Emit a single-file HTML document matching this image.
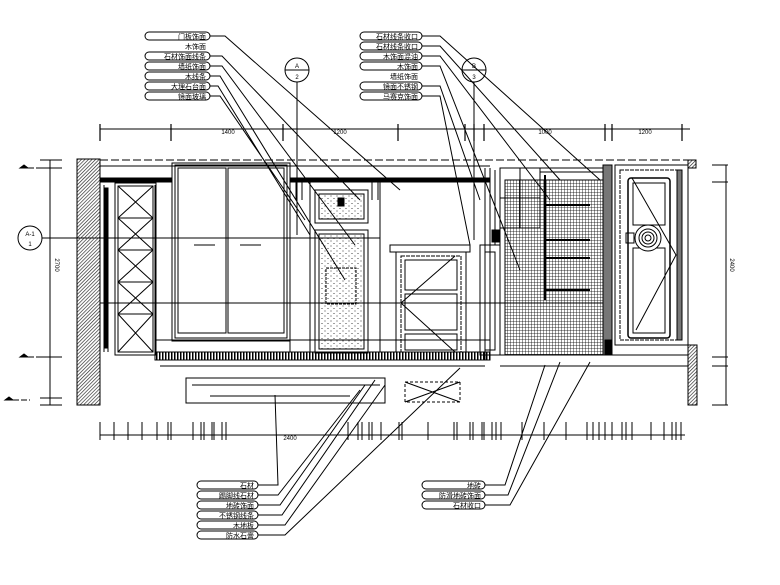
<!DOCTYPE html>
<html><head><meta charset="utf-8"><style>
html,body{margin:0;padding:0;background:#fff;}
svg{display:block;font-family:"Liberation Sans","Noto Sans CJK SC",sans-serif;}
</style></head><body>
<svg width="780" height="585" viewBox="0 0 780 585" xmlns="http://www.w3.org/2000/svg">
<defs>
<pattern id="h" width="2.5" height="2.5" patternUnits="userSpaceOnUse" patternTransform="rotate(45)"><line x1="0" y1="0" x2="0" y2="2.5" stroke="#222" stroke-width="1.3"/></pattern>
<pattern id="g" width="3" height="3" patternUnits="userSpaceOnUse"><path d="M0 0H3M0 0V3" stroke="#000" stroke-width="0.8" fill="none"/></pattern>
<pattern id="d" width="6" height="5" patternUnits="userSpaceOnUse"><circle cx="1" cy="1" r="0.5" fill="#000"/><circle cx="4" cy="3.5" r="0.5" fill="#000"/></pattern>
<pattern id="s" width="3" height="8" patternUnits="userSpaceOnUse"><rect x="0" y="0" width="1.5" height="8" fill="#000"/></pattern>
</defs>
<g fill="none" stroke="#000" stroke-width="1">
<line x1="100" y1="129" x2="690" y2="129"/>
<g stroke-width="1.2">
<path d="M100 124V141M171 124V141M283 124V141M398 124V141M465 124V141M474 124V141M484 124V141M605 124V141M612 124V141M682 124V141"/>
</g>
<circle cx="297" cy="70" r="12"/><line x1="285" y1="70" x2="309" y2="70"/><line x1="297" y1="82" x2="297" y2="235"/>
<circle cx="474" cy="70" r="12"/><line x1="462" y1="70" x2="486" y2="70"/><line x1="474" y1="82" x2="474" y2="240"/>
<line x1="50" y1="160" x2="50" y2="405"/>
<path d="M40 160H62M40 168H62M40 357H62M40 405H62M40 398H62"/>
<path d="M20 168H48M20 357H48M5 400H30" stroke-dasharray="6 2"/>
<path d="M20 168l4 -3l4 3zM20 357l4 -3l4 3zM5 400l4 -3l4 3z" fill="#000"/>
<circle cx="30" cy="238" r="12"/><line x1="42" y1="238" x2="380" y2="238"/>
<line x1="726" y1="165" x2="726" y2="405"/>
<path d="M712 165H728M712 182H728M712 357H728M712 366H728M712 405H728"/>
<rect x="77" y="159" width="23" height="246" fill="url(#h)"/>
<rect x="688" y="345" width="9" height="60" fill="url(#h)"/>
<rect x="688" y="160" width="8" height="8" fill="url(#h)"/>
<line x1="100" y1="160" x2="695" y2="160" stroke-dasharray="8 3"/>
<path d="M100 166H490M100 178H172M290 178H490"/>
<rect x="100" y="178" width="72" height="4" fill="#000"/>
<rect x="290" y="178" width="200" height="4" fill="#000"/>
<path d="M100 185V352M104 185V352M108 188V352"/>
<rect x="104" y="188" width="4" height="160" fill="#000"/>
<rect x="115" y="183" width="41" height="172"/>
<rect x="118" y="186" width="35" height="166"/>
<path d="M118 218H153M118 250H153M118 282H153M118 314H153"/>
<path d="M118 186L153 218M153 186L118 218M118 218L153 250M153 218L118 250M118 250L153 282M153 250L118 282M118 282L153 314M153 282L118 314M118 314L153 352M153 314L118 352"/>
<rect x="172" y="163" width="118" height="178"/>
<rect x="175" y="165" width="112" height="173"/>
<rect x="178" y="168" width="48" height="165"/>
<rect x="228" y="168" width="56" height="165"/>
<path d="M194 245H215M240 245H261"/>
<path d="M155 185V352M290 182V352M310 182V352M380 182V352M490 168V352"/>
<path d="M155 340H490M155 352H490"/>
<path d="M296 182V200M302 182V200M372 182V200M378 182V200"/>
<rect x="315" y="190" width="53" height="33"/><rect x="319" y="194" width="45" height="25" fill="url(#d)"/>
<rect x="338" y="198" width="6" height="8" fill="#000"/>
<rect x="315" y="230" width="53" height="123"/><rect x="319" y="234" width="45" height="115" fill="url(#d)"/>
<rect x="326" y="268" width="30" height="36" stroke-dasharray="3 1"/>
<rect x="390" y="245" width="80" height="7"/>
<rect x="396" y="252" width="70" height="100"/>
<rect x="401" y="256" width="60" height="96" stroke-dasharray="4 1"/>
<path d="M405 260H457V290H405ZM405 294H457V330H405ZM405 334H457V350H405Z"/>
<path d="M401 303L455 256M401 303L455 352"/>
<line x1="380" y1="186" x2="380" y2="352"/>
<rect x="155" y="352" width="335" height="8" fill="url(#s)"/>
<path d="M155 352H490M155 360H490M160 366H485"/>
<path d="M186 378H385V403H186Z"/>
<path d="M192 385H380M210 396H350"/>
<rect x="405" y="382" width="55" height="20" stroke-dasharray="3 2"/>
<path d="M405 382L460 402M460 382L405 402"/>
<line x1="100" y1="303" x2="610" y2="303"/>
<path d="M485 168V360M490 168V360M500 168V355M495 170V245"/>
<rect x="492" y="230" width="7" height="12" fill="#000"/>
<rect x="500" y="168" width="40" height="60"/>
<path d="M520 168V228M500 198H540"/>
<rect x="480" y="245" width="20" height="110"/>
<rect x="485" y="252" width="10" height="98"/>
<rect x="505" y="180" width="98" height="175" fill="url(#g)"/>
<path d="M545 175V300M545 240H590M545 258H590M545 290H590M545 205H590" stroke-width="2"/>
<rect x="603" y="165" width="9" height="190" fill="#777"/>
<rect x="605" y="340" width="6" height="15" fill="#000"/>
<path d="M540 168H603M540 172H603"/>
<rect x="615" y="165" width="73" height="180"/>
<rect x="620" y="170" width="62" height="170" stroke-dasharray="4 1"/>
<rect x="628" y="178" width="42" height="160" rx="3" stroke-width="1.5"/>
<rect x="633" y="183" width="32" height="42"/>
<rect x="633" y="248" width="32" height="85"/>
<path d="M632 178L676 255L636 330"/>
<circle cx="648" cy="238" r="13" fill="#fff"/><circle cx="648" cy="238" r="9"/><circle cx="648" cy="238" r="6"/><circle cx="648" cy="238" r="3"/>
<rect x="626" y="233" width="8" height="10"/>
<rect x="677" y="170" width="5" height="170" fill="#777"/>
<path d="M500 355H688M500 366H688"/>
<line x1="100" y1="435" x2="685" y2="435"/>
<path d="M100 422V440M114 422V440M128 422V440M142 422V440M157 422V440M168 422V440M171 422V440M193 422V440M201 422V440M204 422V440M212 422V440M214 422V440M222 422V440M226 422V440M348 422V440M358 422V440M362 422V440M369 422V440M372 422V440M381 422V440M399 422V440M402 422V440M428 422V440M454 422V440M457 422V440M470 422V440M473 422V440M482 422V440M484 422V440M492 422V440M496 422V440M501 422V440M522 422V440M544 422V440M566 422V440M587 422V440M593 422V440M599 422V440M605 422V440M612 422V440M622 422V440M626 422V440M632 422V440M651 422V440M664 422V440M672 422V440M676 422V440M681 422V440"/>
<path d="M210 36H225L400 190M210 56H222L360 200M210 66H222L355 245M210 76H220L345 280M210 86H218L310 235M210 96H220L305 220"/>
<path d="M422 36H440L600 180M422 46H440L560 180M422 56H440L550 200M422 66H440L520 270M422 86H440L480 200M422 96H440L470 245"/>
<path d="M258 485H278L275 395M258 495H278L360 390M258 505H280L365 385M258 515H282L375 380M258 525H285L385 385M258 535H285L460 368"/>
<path d="M485 485H505L545 365M485 495H508L560 362M485 505H510L590 362"/>
</g>
<g font-size="7" text-anchor="end">
<g fill="#fff" stroke="#000" stroke-width="1">
<rect x="145" y="32" width="65" height="8" rx="4"/>
<rect x="145" y="52" width="65" height="8" rx="4"/>
<rect x="145" y="62" width="65" height="8" rx="4"/>
<rect x="145" y="72" width="65" height="8" rx="4"/>
<rect x="145" y="82" width="65" height="8" rx="4"/>
<rect x="145" y="92" width="65" height="8" rx="4"/>
<rect x="360" y="32" width="62" height="8" rx="4"/>
<rect x="360" y="42" width="62" height="8" rx="4"/>
<rect x="360" y="52" width="62" height="8" rx="4"/>
<rect x="360" y="62" width="62" height="8" rx="4"/>
<rect x="360" y="82" width="62" height="8" rx="4"/>
<rect x="360" y="92" width="62" height="8" rx="4"/>
<rect x="197" y="481" width="61" height="8" rx="4"/>
<rect x="197" y="491" width="61" height="8" rx="4"/>
<rect x="197" y="501" width="61" height="8" rx="4"/>
<rect x="197" y="511" width="61" height="8" rx="4"/>
<rect x="197" y="521" width="61" height="8" rx="4"/>
<rect x="197" y="531" width="61" height="8" rx="4"/>
<rect x="422" y="481" width="63" height="8" rx="4"/>
<rect x="422" y="491" width="63" height="8" rx="4"/>
<rect x="422" y="501" width="63" height="8" rx="4"/>
</g>
<text x="206" y="39">门板饰面</text><text x="206" y="49">木饰面</text><text x="206" y="59">石材饰面线条</text><text x="206" y="69">墙纸饰面</text><text x="206" y="79">木线条</text><text x="206" y="89">大理石台面</text><text x="206" y="99">镜面玻璃</text>
<text x="418" y="39">石材线条收口</text><text x="418" y="49">石材线条收口</text><text x="418" y="59">木饰面混油</text><text x="418" y="69">木饰面</text><text x="418" y="79">墙纸饰面</text><text x="418" y="89">镜面不锈钢</text><text x="418" y="99">马赛克饰面</text>
<text x="254" y="488">石材</text><text x="254" y="498">踢脚线石材</text><text x="254" y="508">地砖饰面</text><text x="254" y="518">不锈钢线条</text><text x="254" y="528">木地板</text><text x="254" y="538">防水石膏</text>
<text x="481" y="488">地砖</text><text x="481" y="498">防滑地砖饰面</text><text x="481" y="508">石材收口</text>
</g>
<g font-size="6" text-anchor="middle">
<text x="297" y="68">A</text><text x="297" y="79">2</text>
<text x="474" y="68">B</text><text x="474" y="79">3</text>
<text x="30" y="236">A-1</text><text x="30" y="246">1</text>
<text x="228" y="134">1400</text><text x="340" y="134">1200</text><text x="545" y="134">1000</text><text x="645" y="134">1200</text>
<text x="55" y="265" transform="rotate(90 55 265)">2700</text>
<text x="730" y="265" transform="rotate(90 730 265)">2400</text>
<text x="290" y="440">2400</text>
</g>
</svg>
</body></html>
